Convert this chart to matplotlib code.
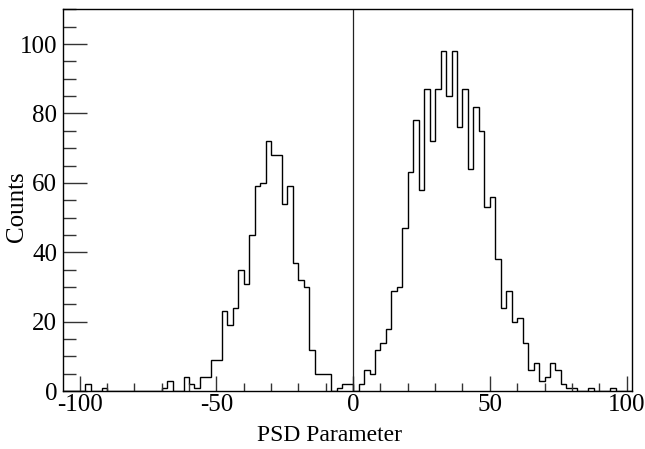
"""PSD parameter histogram, ROOT-like style."""

import numpy as np
import matplotlib
matplotlib.use("Agg")
import matplotlib.pyplot as plt
from matplotlib.ticker import MultipleLocator

# bin edges: -106 .. 102, width 2
bin_lo = -106
bin_hi = 102
bin_width = 2

# counts per bin, left to right
counts = [
    0, 0, 0, 0, 2, 0, 0, 1, 0, 0,
    0, 0, 0, 0, 0, 0, 0, 0, 1, 3,
    0, 0, 4, 2, 1, 4, 4, 9, 9, 23,
    19, 24, 35, 31, 45, 59, 60, 72, 68, 68,
    54, 59, 37, 32, 30, 12, 5, 5, 5, 0,
    1, 2, 2, 0, 2, 6, 5, 12, 14, 18,
    29, 30, 47, 63, 78, 58, 87, 72, 87, 98,
    85, 98, 76, 87, 64, 82, 75, 53, 56, 38,
    24, 29, 20, 21, 14, 6, 8, 3, 4, 8,
    6, 2, 1, 1, 0, 0, 1, 0, 0, 0,
    1, 0, 0, 0,
]

x_ticks = [-100, -50, 0, 50, 100]
y_ticks = [0, 20, 40, 60, 80, 100]

plt.rcParams['font.family'] = ['Liberation Serif', 'DejaVu Serif']

fig = plt.figure(figsize=(6.45, 4.49), dpi=100)
ax = fig.add_axes([0.0972, 0.1287, 0.8831, 0.8506])

edges = np.arange(bin_lo, bin_hi + bin_width, bin_width)
ax.stairs(counts, edges, color='black', linewidth=1.0, baseline=0)

# marker line at zero
ax.axvline(0, color='#222222', linewidth=0.9)

ax.set_xlim(-106.2, 102.1)
ax.set_ylim(0, 110)

ax.set_xticks(x_ticks)
ax.set_xticklabels([str(t) for t in x_ticks])
ax.set_yticks(y_ticks)
ax.xaxis.set_minor_locator(MultipleLocator(10))
ax.yaxis.set_minor_locator(MultipleLocator(5))

ax.tick_params(axis='both', which='both', direction='in', labelsize=18,
               top=False, right=False, color='#333333')
ax.tick_params(axis='x', which='major', length=11, width=1, pad=2)
ax.tick_params(axis='x', which='minor', length=5.5, width=1)
ax.tick_params(axis='y', which='major', length=17, width=1, pad=4)
ax.tick_params(axis='y', which='minor', length=9, width=1)

for sp in ax.spines.values():
    sp.set_linewidth(1.0)

ax.set_xlabel('PSD Parameter', fontsize=17)
ax.set_ylabel('Counts', fontsize=18)
ax.xaxis.set_label_coords(0.469, -0.088)
ax.yaxis.set_label_coords(-0.061, 0.482)

fig.savefig('out.png', dpi=100)
